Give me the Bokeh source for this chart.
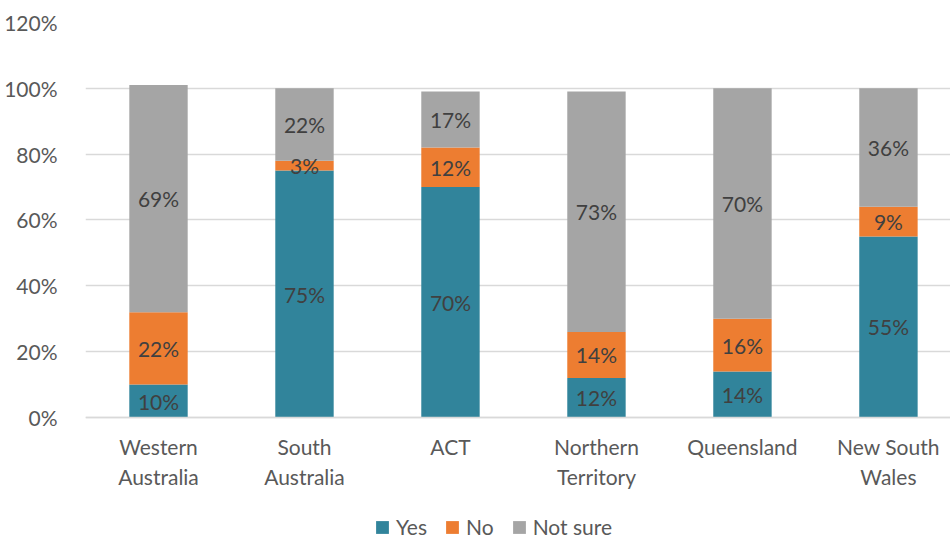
import numpy as np
from bokeh.plotting import figure
from bokeh.models import (ColumnDataSource, Range1d, FixedTicker, PrintfTickFormatter,
                          Legend, LegendItem, LabelSet, Span)
from bokeh.core.properties import value
from bokeh.embed import file_html
from bokeh.resources import INLINE

categories = ["Western\nAustralia", "South\nAustralia", "ACT", "Northern\nTerritory",
              "Queensland", "New South\nWales"]
series_names = ["Yes", "No", "Not sure"]
yes_vals = [10, 75, 70, 12, 14, 55]
no_vals = [22, 3, 12, 14, 16, 9]
notsure_vals = [69, 22, 17, 73, 70, 36]
y_ticks = [0, 20, 40, 60, 80, 100, 120]

colors = ["#31849B", "#ED7D31", "#A5A5A5"]
FONT = "Lato"

x = np.arange(len(categories))
series = [np.array(yes_vals, float), np.array(no_vals, float), np.array(notsure_vals, float)]

# frame extends below the zero line to host category labels and legend
p = figure(frame_width=865, frame_height=518, output_backend="svg", toolbar_location=None,
           x_range=Range1d(-0.5, 5.425), y_range=Range1d(-37.37, 120),
           min_border_left=85, min_border_right=0, min_border_top=22, min_border_bottom=0)
p.outline_line_color = None
p.background_fill_color = "white"

bottom = np.zeros(len(categories))
renderers = []
label_x, label_y, label_t = [], [], []
for name, vals, col in zip(series_names, series, colors):
    src = ColumnDataSource(dict(x=x, top=bottom + vals, bottom=bottom.copy()))
    r = p.vbar(x="x", top="top", bottom="bottom", width=0.4, source=src,
               fill_color=col, line_color=None)
    renderers.append(r)
    for xi, b, v in zip(x, bottom, vals):
        label_x.append(xi)
        label_y.append(b + v / 2)
        label_t.append(f"{int(v)}%")
    bottom = bottom + vals

lsrc = ColumnDataSource(dict(x=label_x, y=label_y, t=label_t))
labels = LabelSet(x="x", y="y", text="t", source=lsrc, text_align="center",
                  text_baseline="middle", text_font=value(FONT), text_font_size="21px",
                  text_color="#404040")
p.add_layout(labels)

# category axis (line at zero + labels)
p.xaxis.visible = False
p.add_layout(Span(location=0, dimension="width", line_color="#D9D9D9", line_width=1.5))
csrc = ColumnDataSource(dict(x=x, y=np.zeros(len(categories)), t=categories))
p.text(x="x", y="y", text="t", source=csrc, text_align="center", text_baseline="top",
       y_offset=17, text_font=value(FONT), text_font_size="21px", text_color="#595959",
       text_line_height=1.18)

p.yaxis.ticker = FixedTicker(ticks=y_ticks)
p.yaxis.formatter = PrintfTickFormatter(format="%d%%")
p.yaxis.axis_line_color = None
p.yaxis.major_tick_line_color = None
p.yaxis.minor_tick_line_color = None
p.yaxis.major_label_text_font = FONT
p.yaxis.major_label_text_font_size = "21px"
p.yaxis.major_label_text_color = "#595959"
p.yaxis.major_label_standoff = 22

p.xgrid.grid_line_color = None
p.ygrid.ticker = FixedTicker(ticks=y_ticks)
p.ygrid.grid_line_color = "#D9D9D9"
p.ygrid.grid_line_width = 1.5

legend = Legend(items=[LegendItem(label=n, renderers=[r]) for n, r in zip(series_names, renderers)],
                orientation="horizontal", location=(289, 1),
                glyph_width=16, glyph_height=16, label_standoff=6, spacing=17,
                padding=0, margin=0, border_line_color=None,
                label_text_font=FONT, label_text_font_size="21px",
                label_text_color="#595959", label_height=18, background_fill_alpha=0)
p.add_layout(legend)

open("out.html", "w").write(file_html(p, INLINE))
